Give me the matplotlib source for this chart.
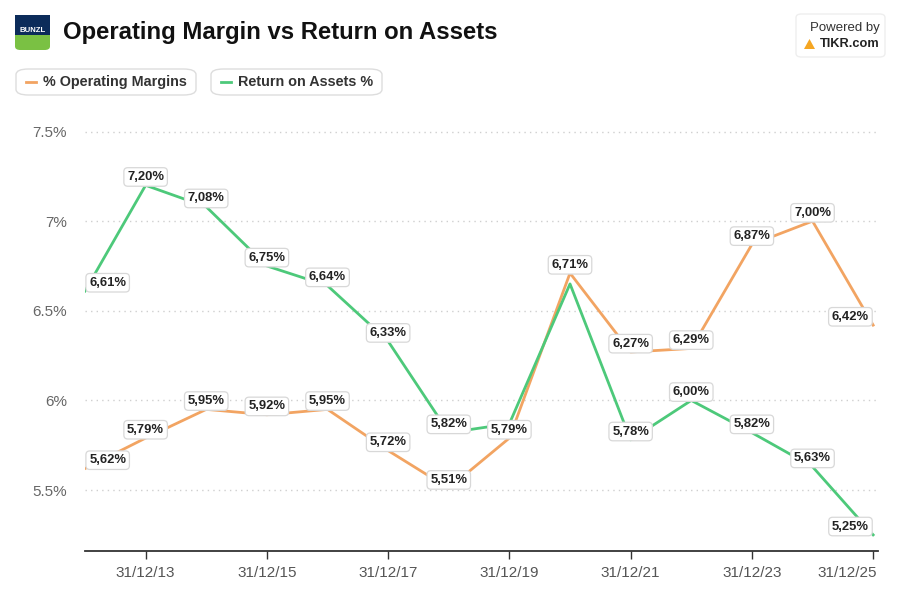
import matplotlib
matplotlib.use("Agg")
import matplotlib.pyplot as plt
from matplotlib.patches import FancyBboxPatch, Rectangle, Polygon

plt.rcParams['font.family'] = ['Liberation Sans', 'DejaVu Sans']

years = [2012, 2013, 2014, 2015, 2016, 2017, 2018, 2019, 2020, 2021, 2022, 2023, 2024, 2025]
op_margin = [5.62, 5.79, 5.95, 5.92, 5.95, 5.72, 5.51, 5.79, 6.71, 6.27, 6.29, 6.87, 7.00, 6.42]
roa = [6.61, 7.20, 7.08, 6.75, 6.64, 6.33, 5.82, 5.87, 6.65, 5.78, 6.00, 5.82, 5.63, 5.25]
roa_show = [True, True, True, True, True, True, True, False, False, True, True, True, True, True]
tick_years = [2013, 2015, 2017, 2019, 2021, 2023, 2025]
tick_labels = ['31/12/13', '31/12/15', '31/12/17', '31/12/19', '31/12/21', '31/12/23', '31/12/25']
y_ticks = [5.5, 6.0, 6.5, 7.0, 7.5]
y_labels = ['5.5%', '6%', '6.5%', '7%', '7.5%']

ORANGE = '#F2A462'
GREEN = '#4DC97A'

W, H = 901, 601
fig = plt.figure(figsize=(W / 100, H / 100), dpi=100)
fig.patch.set_facecolor('white')

def fx(x):
    return x / W

def fy(y):
    return 1 - y / H

ax_l, ax_r, ax_t, ax_b = 85, 878, 110, 551
ax = fig.add_axes([fx(ax_l), fy(ax_b), fx(ax_r) - fx(ax_l), fy(ax_t) - fy(ax_b)])
ax.set_xlim(2012, 2025.08)
ax.set_ylim(5.16, 7.62)

for yv in y_ticks:
    ax.axhline(yv, color='#cfcfcf', lw=1.0, ls=(0, (1, 3)), zorder=1)

ax.plot(years, op_margin, color=ORANGE, lw=2.0, zorder=3, solid_joinstyle='round')
ax.plot(years, roa, color=GREEN, lw=2.0, zorder=3, solid_joinstyle='round')

def label(x, y, txt):
    ha = 'center'
    dx = 0
    if x == years[0]:
        ha = 'left'
        dx = 3
    elif x == years[-1]:
        ha = 'right'
        dx = -3
    ax.annotate(txt, (x, y), xytext=(dx, 6), textcoords='offset points',
                ha=ha, va='center', fontsize=9.4, fontweight='bold', color='#222222',
                zorder=5, annotation_clip=False,
                bbox=dict(boxstyle='round,pad=0.25,rounding_size=0.3', fc='white',
                          ec='#d8d8d8', lw=0.9))

def fmt(v):
    return ('%.2f%%' % v).replace('.', ',')

for x, v in zip(years, op_margin):
    label(x, v, fmt(v))
for x, v, s in zip(years, roa, roa_show):
    if s:
        label(x, v, fmt(v))

ax.set_yticks(y_ticks)
ax.set_yticklabels(y_labels, fontsize=11, color='#666666')
ax.tick_params(axis='y', length=0, pad=13)
ax.set_xticks(tick_years)
ax.set_xticklabels(tick_labels[:-1] + [''], fontsize=11, color='#555555')
ax.tick_params(axis='x', length=6, width=1, color='#333333', pad=5)
ax.annotate(tick_labels[-1], (tick_years[-1], 0), xycoords=('data', 'axes fraction'),
            xytext=(3, -11), textcoords='offset points', ha='right', va='top',
            fontsize=11, color='#555555', annotation_clip=False)
for s in ['top', 'right', 'left']:
    ax.spines[s].set_visible(False)
ax.spines['bottom'].set_color('#333333')
ax.spines['bottom'].set_linewidth(1.3)
ax.set_facecolor('white')

# Logo
fig.patches.append(FancyBboxPatch((fx(15), fy(50)), fx(35), 35 / H,
                                  boxstyle='round,pad=0,rounding_size=0.006',
                                  transform=fig.transFigure, fc='#7AC143', ec='none'))
fig.patches.append(Rectangle((fx(15), fy(35)), fx(35), 20 / H, transform=fig.transFigure,
                             fc='#0C2C5A', ec='none'))
fig.patches.append(FancyBboxPatch((fx(15), fy(28)), fx(35), 13 / H,
                                  boxstyle='round,pad=0,rounding_size=0.006',
                                  transform=fig.transFigure, fc='#0C2C5A', ec='none'))
fig.text(fx(32.5), fy(30), 'BUNZL', fontsize=5.6, fontweight='bold', color='white',
         ha='center', va='center')

fig.text(fx(63), fy(33), 'Operating Margin vs Return on Assets', fontsize=17.2,
         fontweight='bold', color='#111111', ha='left', va='center')

# Legend pills
def pill(x0, x1, color, txt):
    p = FancyBboxPatch((fx(x0), fy(95)), fx(x1 - x0), 26 / H,
                       boxstyle='round,pad=0,rounding_size=0.014',
                       transform=fig.transFigure, fc='white', ec='#dddddd', lw=1.0,
                       mutation_aspect=H / W)
    fig.patches.append(p)
    fig.lines.append(plt.Line2D([fx(x0 + 10), fx(x0 + 20)], [fy(82), fy(82)],
                                transform=fig.transFigure, color=color, lw=2))
    fig.text(fx(x0 + 27), fy(82), txt, fontsize=10.4, fontweight='bold', color='#333333',
             ha='left', va='center')

pill(16, 196, ORANGE, '% Operating Margins')
pill(211, 382, GREEN, 'Return on Assets %')

# Powered by box
fig.patches.append(FancyBboxPatch((fx(796), fy(57)), fx(89), 43 / H,
                                  boxstyle='round,pad=0,rounding_size=0.006',
                                  transform=fig.transFigure, fc='white', ec='#eeeeee', lw=1.0))
fig.text(fx(880), fy(28), 'Powered by', fontsize=9.5, color='#333333', ha='right', va='center')
fig.text(fx(880), fy(44), 'TIKR.com', fontsize=9.2, fontweight='bold', color='#222222',
         ha='right', va='center')
fig.patches.append(Polygon([(fx(804), fy(49)), (fx(815), fy(49)), (fx(809.5), fy(39))],
                           closed=True, transform=fig.transFigure, fc='#F5A623', ec='none'))

fig.savefig('out.png', dpi=100, facecolor='white')
